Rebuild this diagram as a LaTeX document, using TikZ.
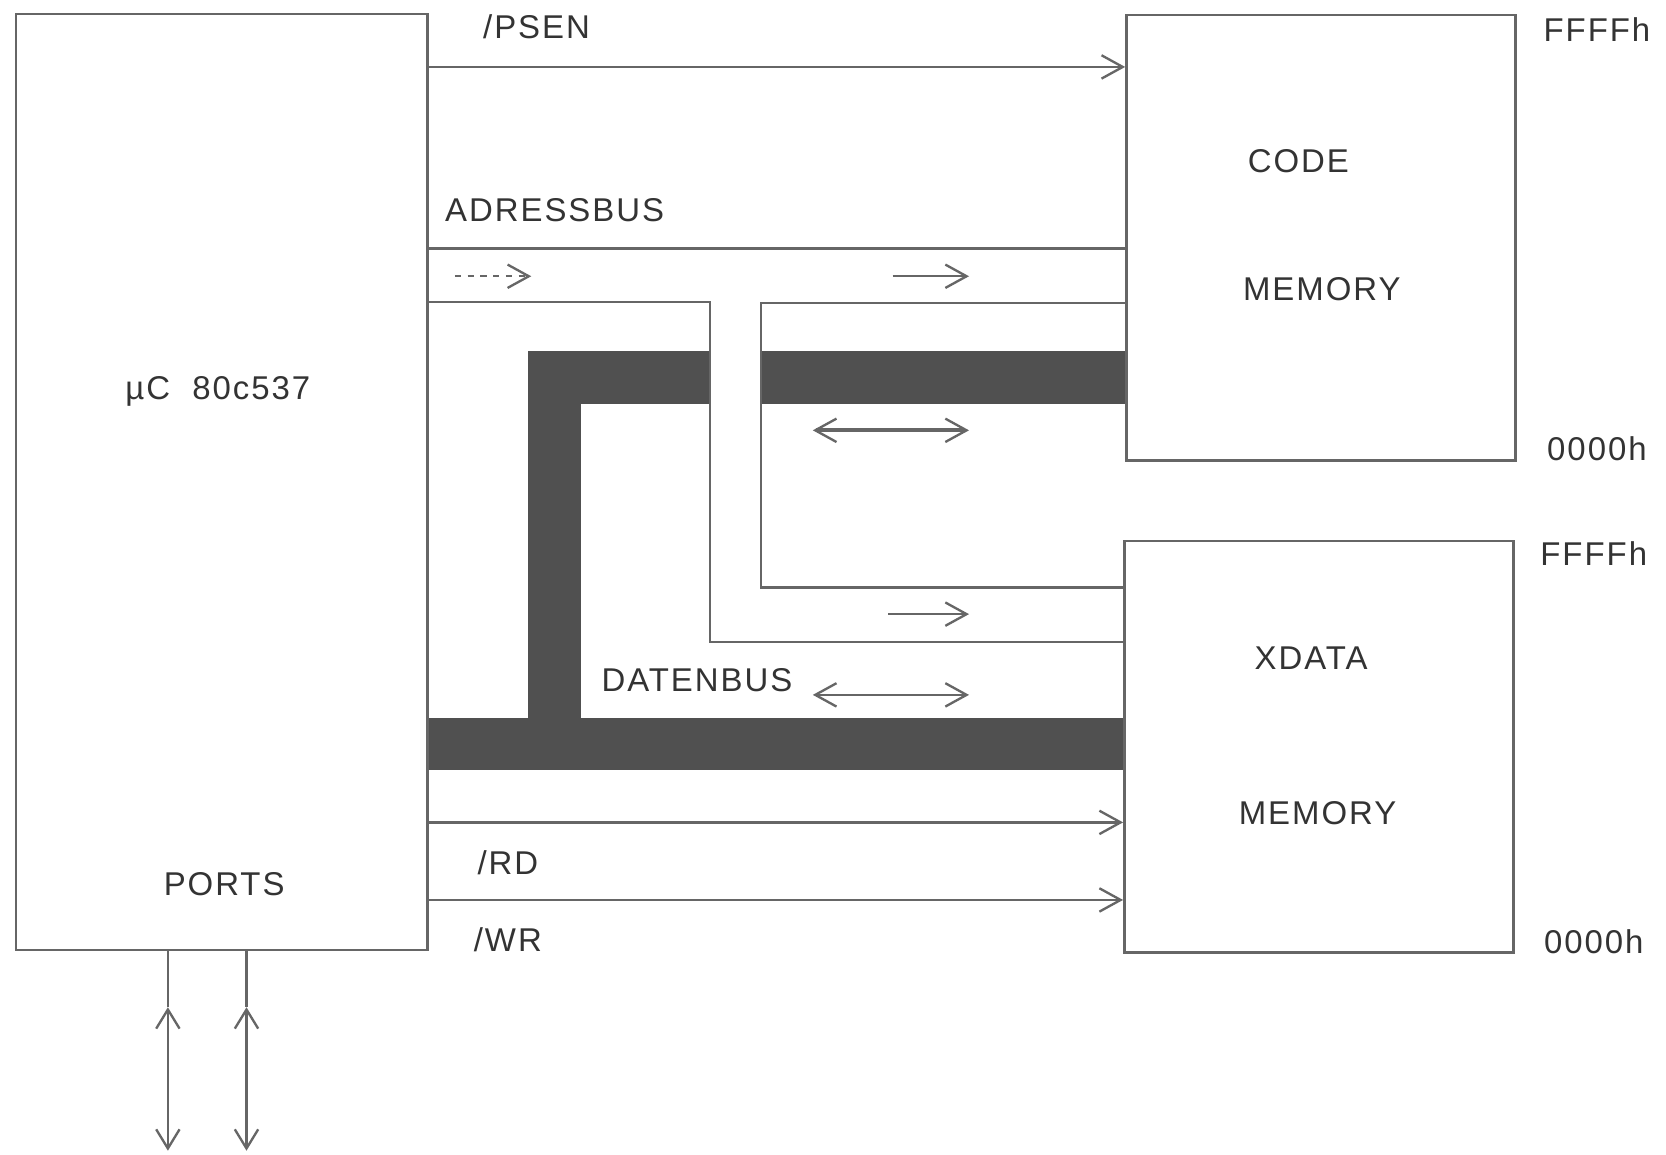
\documentclass[tikz,border=0pt]{standalone}
\usepackage{fontspec}
\setmainfont{Liberation Sans}
\newfontfamily\plotfont[LetterSpace=6]{Liberation Sans}
\usetikzlibrary{arrows.meta}
\definecolor{ln}{HTML}{666666}
\definecolor{tx}{HTML}{333333}
\definecolor{bus}{HTML}{505050}
\begin{document}
\begin{tikzpicture}[x=0.5pt,y=-0.5pt,
  box/.style={draw=ln, line width=1.2pt, anchor=north west, inner sep=0},
  lbl/.style={text=tx, font=\plotfont\fontsize{15.5}{18}\selectfont, inner sep=0},
  sig/.style={draw=ln, line width=1.1pt},
  tip/.style={-{Straight Barb[length=10pt,width=11pt,line width=1.1pt]}},
  dtip/.style={{Straight Barb[length=10pt,width=11pt,line width=1.1pt]}-{Straight Barb[length=10pt,width=11pt,line width=1.1pt]}},
  ptip/.style={{Straight Barb[length=9pt,width=11pt,line width=1.1pt]}-{Straight Barb[length=9pt,width=11pt,line width=1.1pt]}}]
\useasboundingbox (0,0) rectangle (1568,1087);
\fill[white] (0,0) rectangle (1568,1087);
% data bus band
\fill[bus] (401,676) rectangle (1058,725);
\fill[bus] (497,330) rectangle (547,725);
\fill[bus] (497,330) rectangle (668,380);
\fill[bus] (716,330) rectangle (1059,380);
% boxes
\node[box, minimum width=193.5pt, minimum height=440.5pt] (uc) at (14,12) {};
\node[box, minimum width=183pt, minimum height=209.5pt] (code) at (1059,13) {};
\node[box, minimum width=183pt, minimum height=193.5pt] (xdata) at (1057,508) {};
% level coordinates
\coordinate (hpsen) at (0,63);
\coordinate (ha1) at (0,234);
\coordinate (a1) at (668,284);
\coordinate (a2) at (668,604);
\coordinate (b1) at (716,285);
\coordinate (b2) at (716,553);
\coordinate (hrd) at (0,774);
\coordinate (hwr) at (0,847);
% signals
\draw[sig,tip] (uc.east |- hpsen) -- (code.west |- hpsen);
\draw[sig] (uc.east |- ha1) -- (code.west |- ha1);
\draw[sig] (uc.east |- a1) -- (a1) -- (a2) -- (xdata.west |- a2);
\draw[sig] (code.west |- b1) -- (b1) -- (b2) -- (xdata.west |- b2);
\draw[sig,tip] (uc.east |- hrd) -- (xdata.west |- hrd);
\draw[sig,tip] (uc.east |- hwr) -- (xdata.west |- hwr);
% direction arrows
\coordinate (s1a) at (428,260); \coordinate (s1b) at (500,260);
\coordinate (s2a) at (840,260); \coordinate (s2b) at (912,260);
\coordinate (s3a) at (836,578); \coordinate (s3b) at (912,578);
\coordinate (d1a) at (765,405); \coordinate (d1b) at (912,405);
\coordinate (d2a) at (765,654); \coordinate (d2b) at (912,654);
\draw[sig,tip,dashed] (s1a) -- (s1b);
\draw[sig,tip] (s2a) -- (s2b);
\draw[sig,tip] (s3a) -- (s3b);
\draw[sig,dtip,line width=1.8pt] (d1a) -- (d1b);
\draw[sig,dtip] (d2a) -- (d2b);
% ports
\coordinate (p1) at (158,948); \coordinate (p1e) at (158,1083);
\coordinate (p2) at (232,948); \coordinate (p2e) at (232,1083);
\draw[sig] (uc.south -| p1) -- (p1);
\draw[sig] (uc.south -| p2) -- (p2);
\draw[sig,ptip] (p1) -- (p1e);
\draw[sig,ptip] (p2) -- (p2e);
% labels
\node[lbl] (lpsen) at (505,25) {/PSEN};
\node[lbl] (ladr) at (522,198) {ADRESSBUS};
\node[lbl] (luc) at (205,368) {µC\ \ 80c537};
\node[lbl] (lports) at (211,832) {PORTS};
\node[lbl] (ldat) at (656,640) {DATENBUS};
\node[lbl] (lrd) at (478,812) {/RD};
\node[lbl] (lwr) at (478,884) {/WR};
\node[lbl] (lcode) at (1222,152) {CODE};
\node[lbl] (lcm) at (1244,272) {MEMORY};
\node[lbl] (lxd) at (1234,619) {XDATA};
\node[lbl] (lxm) at (1240,765) {MEMORY};
\node[lbl] (f1) at (1503,28) {FFFFh};
\node[lbl] (z1) at (1503,422) {0000h};
\node[lbl] (f2) at (1500,521) {FFFFh};
\node[lbl] (z2) at (1500,886) {0000h};
\end{tikzpicture}
\end{document}
